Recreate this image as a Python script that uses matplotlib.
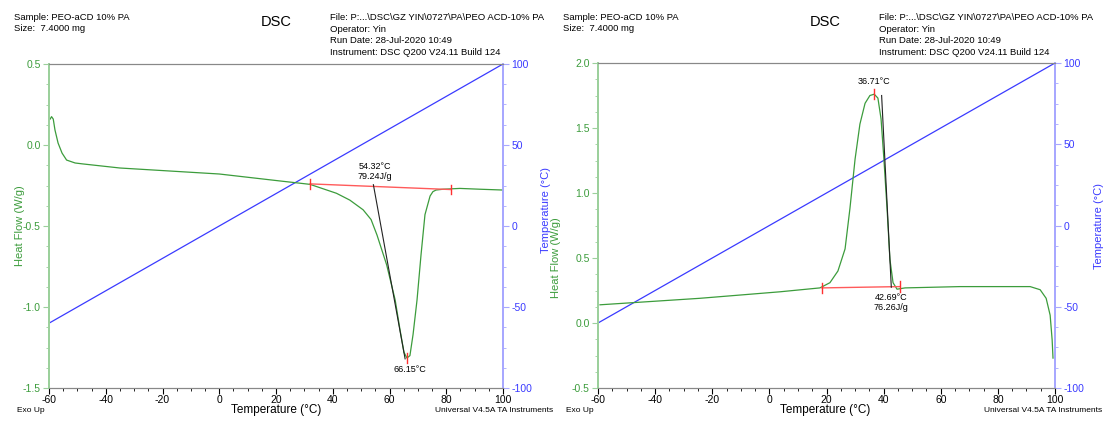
import numpy as np
import matplotlib
matplotlib.use('Agg')
import matplotlib.pyplot as plt
from matplotlib.ticker import MultipleLocator

plt.rcParams['font.family'] = ['Liberation Sans', 'DejaVu Sans']
plt.rcParams['axes.unicode_minus'] = False

# Courbe de gauche (chauffe) : temperature (C), flux thermique (W/g)
T_left = [-59.6, -59.1, -58.5, -57.9, -56.8, -55.4, -53.8, -50.8, -48, -35, 0, 21.4, 28.5, 32,
          41.3, 46, 50.7, 53.5, 55.6, 59, 62, 63.7, 65.1, 66.15, 67.2, 68.3, 69.7, 71.1, 72.5,
          74.3, 75.3, 76.4, 78.9, 84.8, 91.9, 100]
HF_left = [0.16, 0.175, 0.16, 0.093, 0.012, -0.05, -0.093, -0.111, -0.117, -0.142, -0.179, -0.222,
           -0.236, -0.243, -0.298, -0.34, -0.40, -0.46, -0.556, -0.74, -0.957, -1.14, -1.28, -1.315,
           -1.30, -1.17, -0.957, -0.68, -0.43, -0.315, -0.288, -0.278, -0.273, -0.268, -0.273, -0.278]

# Courbe de droite (refroidissement)
T_right = [-59.3, -24.3, 3.7, 17.7, 21.2, 24, 26.5, 28.2, 30, 31.7, 33.5, 35.2, 36.71, 38, 39.1,
           40.1, 41.2, 42.2, 43.3, 44.7, 47.5, 66.7, 91.3, 94.8, 96.9, 98.3, 99, 99.3]
HF_right = [0.14, 0.19, 0.24, 0.27, 0.31, 0.40, 0.57, 0.88, 1.26, 1.53, 1.69, 1.75, 1.76, 1.73, 1.57,
            1.26, 0.88, 0.49, 0.31, 0.26, 0.27, 0.28, 0.28, 0.256, 0.19, 0.06, -0.13, -0.27]

# Rampe de temperature
T_ramp = [-60, 100]

# Analyses (ligne de base, tangente, pic)
base_left_T, base_left_HF = [32, 81.7], [-0.240, -0.275]
tan_left_T, tan_left_HF = [54.32, 65.5], [-0.245, -1.32]
peak_left = (66.15, -1.315)
base_right_T, base_right_HF = [18.4, 45.7], [0.27, 0.28]
tan_right_T, tan_right_HF = [39.3, 42.69], [1.75, 0.275]
peak_right = (36.71, 1.76)

green = '#3c9c3c'
blue = '#3a3aff'
W, H = 1107, 421

fig = plt.figure(figsize=(W / 100, H / 100), dpi=100)


def px(x, y):
    return x / W, 1 - y / H


def make_axes(rect, ylim, ymaj):
    ax = fig.add_axes(rect)
    ax2 = ax.twinx()
    ax.set_xlim(-60, 100)
    ax.set_ylim(*ylim)
    ax2.set_ylim(-100, 100)
    ax.xaxis.set_major_locator(MultipleLocator(20))
    ax.xaxis.set_minor_locator(MultipleLocator(5))
    ax.yaxis.set_major_locator(MultipleLocator(ymaj))
    ax.yaxis.set_minor_locator(MultipleLocator(ymaj / 4))
    ax2.yaxis.set_major_locator(MultipleLocator(50))
    ax2.yaxis.set_minor_locator(MultipleLocator(12.5))
    ax.tick_params(axis='x', which='both', direction='out', labelsize=7.5, pad=1)
    ax.tick_params(axis='x', which='major', length=4)
    ax.tick_params(axis='x', which='minor', length=2)
    ax.tick_params(axis='y', which='both', colors='#9cd09c', labelcolor=green, labelsize=7.5, pad=2)
    ax.tick_params(axis='y', which='major', length=4)
    ax.tick_params(axis='y', which='minor', length=2)
    ax2.tick_params(axis='y', which='both', colors='#a8a8ff', labelcolor=blue, labelsize=7.5, pad=2)
    ax2.tick_params(axis='y', which='major', length=4)
    ax2.tick_params(axis='y', which='minor', length=2)
    for a in (ax, ax2):
        a.spines['top'].set_color('#888888')
        a.spines['bottom'].set_color('#888888')
        a.spines['left'].set_color('#9cd09c')
        a.spines['right'].set_color('#a8a8ff')
        a.spines['left'].set_linewidth(1.3)
        a.spines['right'].set_linewidth(1.3)
    ax.yaxis.set_major_formatter(matplotlib.ticker.FormatStrFormatter('%.1f'))
    ax.set_zorder(ax2.get_zorder() + 1)
    ax.patch.set_visible(False)
    return ax, ax2


axL, axL2 = make_axes([49 / W, 1 - 388 / H, 454 / W, 324 / H], (-1.5, 0.5), 0.5)
axR, axR2 = make_axes([598 / W, 1 - 388 / H, 457 / W, 325 / H], (-0.5, 2.0), 0.5)

# Graphique de gauche
axL2.plot(T_ramp, T_ramp, color=blue, lw=0.9)
axL.plot(T_left, HF_left, color=green, lw=0.9)
axL.plot(base_left_T, base_left_HF, color='#ff5a5a', lw=1.0)
for t, h in zip(base_left_T, base_left_HF):
    axL.plot([t, t], [h - 0.03, h + 0.03], color='#ff3030', lw=1.0)
axL.plot([peak_left[0]] * 2, [peak_left[1] - 0.03, peak_left[1] + 0.03], color='#ff3030', lw=1.0)
axL.plot(tan_left_T, tan_left_HF, color='#222222', lw=0.8)
axL.text(54.8, -0.22, '54.32°C\n79.24J/g', fontsize=6.5, ha='center', va='bottom', linespacing=1.1)
axL.text(67.2, -1.36, '66.15°C', fontsize=6.5, ha='center', va='top')

# Graphique de droite
axR2.plot(T_ramp, T_ramp, color=blue, lw=0.9)
axR.plot(T_right, HF_right, color=green, lw=0.9)
axR.plot(base_right_T, base_right_HF, color='#ff5a5a', lw=1.0)
for t, h in zip(base_right_T, base_right_HF):
    axR.plot([t, t], [h - 0.04, h + 0.04], color='#ff3030', lw=1.0)
axR.plot([peak_right[0]] * 2, [peak_right[1] - 0.04, peak_right[1] + 0.04], color='#ff3030', lw=1.0)
axR.plot(tan_right_T, tan_right_HF, color='#222222', lw=0.8)
axR.text(36.71, 1.82, '36.71°C', fontsize=6.5, ha='center', va='bottom')
axR.text(42.69, 0.23, '42.69°C\n76.26J/g', fontsize=6.5, ha='center', va='top', linespacing=1.1)

# En-tetes et textes
for dx in (0, 549):
    fig.text(*px(14 + dx, 23), 'Sample: PEO-aCD 10% PA\nSize:  7.4000 mg', fontsize=6.8,
             va='center', linespacing=1.4)
    fig.text(*px(276 + dx, 22), 'DSC', fontsize=10.5, ha='center', va='center')
    fig.text(*px(330 + dx, 35), 'File: P:...\\DSC\\GZ YIN\\0727\\PA\\PEO ACD-10% PA\nOperator: Yin\n'
             'Run Date: 28-Jul-2020 10:49\nInstrument: DSC Q200 V24.11 Build 124',
             fontsize=6.8, va='center', linespacing=1.4)
    fig.text(*px(17 + dx, 410), 'Exo Up', fontsize=6, va='center')
    fig.text(*px(276 + dx, 410), 'Temperature (°C)', fontsize=8.5, ha='center', va='center')
    fig.text(*px(553 + dx, 410), 'Universal V4.5A TA Instruments', fontsize=6, ha='right', va='center')

fig.text(*px(20, 226), 'Heat Flow (W/g)', fontsize=8, color=green, rotation=90, ha='center', va='center')
fig.text(*px(546, 210), 'Temperature (°C)', fontsize=8, color=blue, rotation=90, ha='center', va='center')
fig.text(*px(556, 258), 'Heat Flow (W/g)', fontsize=8, color=green, rotation=90, ha='center', va='center')
fig.text(*px(1099, 226), 'Temperature (°C)', fontsize=8, color=blue, rotation=90, ha='center', va='center')

fig.savefig('out.png', dpi=100)
